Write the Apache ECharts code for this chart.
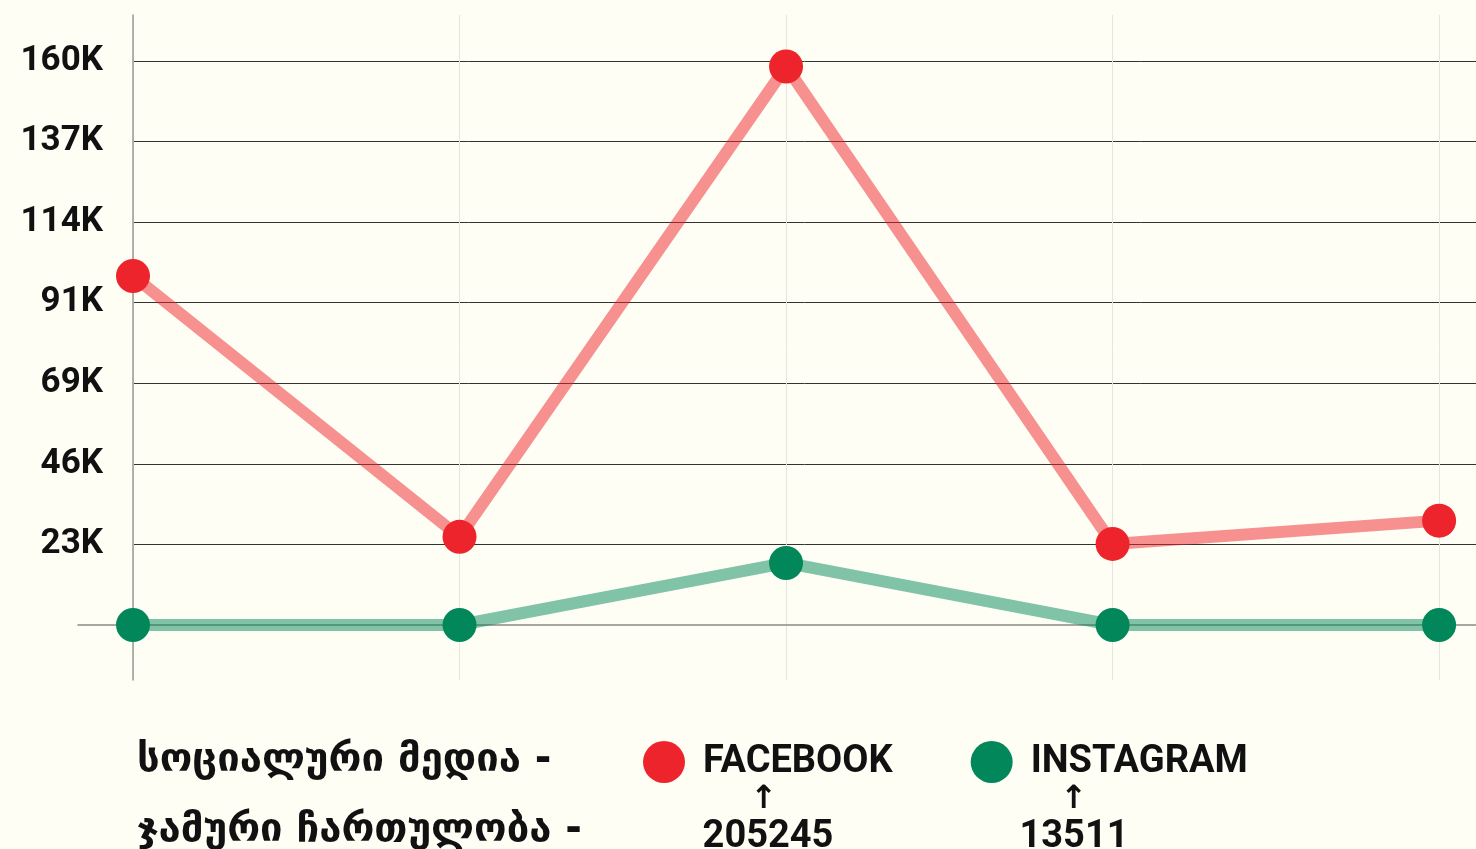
<!DOCTYPE html>
<html>
<head>
<meta charset="utf-8">
<style>
  html, body { margin: 0; padding: 0; background: #fefef5; }
  #chart { width: 1476px; height: 849px; }
</style>
<script src="https://cdn.jsdelivr.net/npm/echarts@6/dist/echarts.min.js"></script>
</head>
<body>
<div id="chart"></div>
<script>
const seriesNames = ["FACEBOOK", "INSTAGRAM"];
const facebookValues = [99000, 25000, 158400, 23000, 29600];
const instagramValues = [0, 0, 17600, 0, 0];
const totals = [205245, 13511];
const tickValues = [1, 2, 3, 4, 5, 6, 7].map(i => (160000 / 7) * i);
const pointIndex = [0, 1, 2, 3, 4];
const titleLines = ["სოციალური მედია -", "ჯამური ჩართულობა -"];

const yMin = -15600;
const yMax = 173000;
const xMax = 4.113;

const red = "#ee242c";
const green = "#02875a";
const latin = "Roboto, 'DejaVu Sans', sans-serif";
const georgian = "bold 40px 'DejaVu Sans', sans-serif";

const chart = echarts.init(document.getElementById("chart"));

const option = {
  backgroundColor: "#fefef5",
  animation: false,
  grid: [
    { left: 133, right: 0, top: 15, bottom: 169 },
    { left: 78, right: 0, top: 15, bottom: 169 }
  ],
  xAxis: [
    {
      type: "value",
      gridIndex: 0,
      min: 0,
      max: xMax,
      axisLine: { show: false },
      axisTick: { show: false, customValues: pointIndex },
      axisLabel: { show: false },
      splitLine: { show: true, lineStyle: { color: "#e6e6df", width: 1 } }
    },
    {
      type: "value",
      gridIndex: 1,
      min: 0,
      max: 1,
      axisLine: { show: true, onZero: true, lineStyle: { color: "#8a8a85", width: 1.5 } },
      axisTick: { show: false },
      axisLabel: { show: false },
      splitLine: { show: false }
    }
  ],
  yAxis: [
    {
      type: "value",
      gridIndex: 0,
      min: yMin,
      max: yMax,
      axisLine: { show: true, onZero: false, lineStyle: { color: "#9a9a94", width: 1.5 } },
      axisTick: { show: false, customValues: tickValues },
      axisLabel: {
        customValues: tickValues,
        formatter: v => Math.round(v / 1000) + "K",
        margin: 30,
        padding: [10, 0, 0, 0],
        color: "#111",
        fontFamily: latin,
        fontWeight: "bold",
        fontSize: 35
      },
      splitLine: { show: true, lineStyle: { color: "#333", width: 1 } }
    },
    {
      type: "value",
      gridIndex: 1,
      min: yMin,
      max: yMax,
      axisLine: { show: false },
      axisTick: { show: false },
      axisLabel: { show: false },
      splitLine: { show: false }
    }
  ],
  legend: {
    data: seriesNames,
    icon: "circle",
    left: 638,
    top: 736,
    itemWidth: 42,
    itemHeight: 42,
    itemGap: 78,
    textStyle: {
      color: "#111",
      fontFamily: latin,
      fontWeight: "bold",
      fontSize: 38,
      padding: [0, 0, 0, 13]
    }
  },
  graphic: [
    {
      type: "text",
      x: 137,
      y: 761,
      style: { text: titleLines[0], fill: "#111", font: georgian, verticalAlign: "middle" }
    },
    {
      type: "text",
      x: 137,
      y: 831,
      style: { text: titleLines[1], fill: "#111", font: georgian, verticalAlign: "middle" }
    },
    {
      type: "text",
      x: 764,
      y: 800,
      style: { text: "↑", fill: "#111", font: "bold 32px 'DejaVu Sans'", align: "center", verticalAlign: "middle" }
    },
    {
      type: "text",
      x: 768,
      y: 818,
      style: { text: String(totals[0]), fill: "#111", font: "bold 38px Roboto", align: "center" }
    },
    {
      type: "text",
      x: 1074,
      y: 800,
      style: { text: "↑", fill: "#111", font: "bold 32px 'DejaVu Sans'", align: "center", verticalAlign: "middle" }
    },
    {
      type: "text",
      x: 1074,
      y: 818,
      style: { text: String(totals[1]), fill: "#111", font: "bold 38px Roboto", align: "center" }
    }
  ],
  series: [
    {
      name: seriesNames[1],
      type: "line",
      xAxisIndex: 0,
      yAxisIndex: 0,
      data: pointIndex.map(i => [i, instagramValues[i]]),
      symbol: "circle",
      symbolSize: 34,
      itemStyle: { color: green },
      lineStyle: { color: green, width: 12, opacity: 0.5 },
      z: 3
    },
    {
      name: seriesNames[0],
      type: "line",
      xAxisIndex: 0,
      yAxisIndex: 0,
      data: pointIndex.map(i => [i, facebookValues[i]]),
      symbol: "circle",
      symbolSize: 34,
      itemStyle: { color: red },
      lineStyle: { color: red, width: 12, opacity: 0.5 },
      z: 3
    }
  ]
};

chart.setOption(option);
</script>
</body>
</html>
